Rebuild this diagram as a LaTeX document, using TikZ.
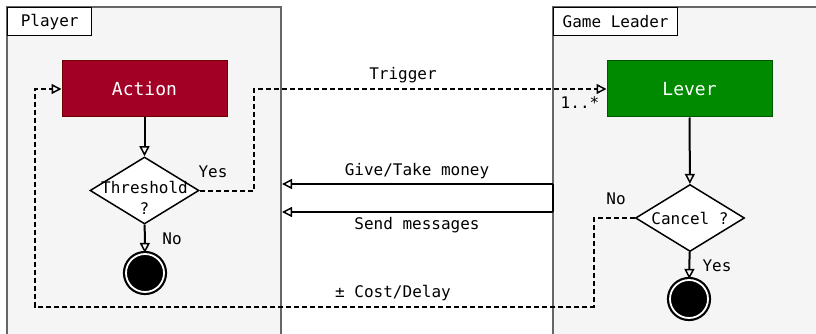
\documentclass[tikz,border=0pt]{standalone}
\usepackage{fontspec}
\setmainfont{DejaVu Sans Mono}
\usetikzlibrary{arrows.meta,shapes.geometric}
\definecolor{panelfill}{HTML}{F5F5F5}
\definecolor{panelline}{HTML}{666666}
\definecolor{actred}{HTML}{A20025}
\definecolor{actredline}{HTML}{6F0000}
\definecolor{levgreen}{HTML}{008A00}
\definecolor{levgreenline}{HTML}{005700}
\begin{document}
\begin{tikzpicture}[x=1pt,y=-1pt,
  txt/.style={font=\fontsize{16}{21}\selectfont, inner sep=0pt},
  lanelabel/.style={draw=black, fill=white, line width=1.3pt, anchor=north west, minimum height=28pt, inner sep=0pt, font=\fontsize{16}{21}\selectfont},
  actbox/.style={draw, line width=1pt, minimum width=165pt, minimum height=56pt, inner sep=0pt, text=white, font=\fontsize{18}{22}\selectfont},
  decision/.style={diamond, draw=black, fill=white, line width=1.5pt, minimum width=109pt, minimum height=67pt, inner sep=0pt},
  endstate/.style={circle, draw=black, fill=black, line width=2.2pt, double=white, double distance=1.8pt, minimum size=38pt, inner sep=0pt},
  flow/.style={line width=2pt, -{Triangle[open, length=10pt, width=10pt, line width=1.5pt]}},
  dflow/.style={line width=2pt, dash pattern=on 5pt off 3pt, -{Triangle[open, length=10pt, width=10pt, line width=1.5pt]}},
  dline/.style={line width=2pt, dash pattern=on 5pt off 3pt}
]
\useasboundingbox (0,0) rectangle (816,334);
% panels
\fill[panelfill] (7,7) rectangle (281,334);
\draw[panelline, line width=1.2pt] (7,334) -- (7,7) -- (281,7) -- (281,334);
\fill[panelfill] (553,7) rectangle (816,334);
\draw[panelline, line width=1.2pt] (553,334) -- (553,7) -- (816,7);
\node[lanelabel, minimum width=84pt] (lplayer) at (7,7) {Player};
\node[lanelabel, minimum width=124pt] (lleader) at (553,7) {Game Leader};
% player nodes
\node[actbox, fill=actred, draw=actredline] (action) at (144.5,89) {Action};
\node[decision] (thr) at (144.5,190.5) {};
\node[txt, align=center] (thrtext) at (144.5,198) {Threshold\\?};
\node[endstate] (end1) at (145,273) {};
% leader nodes
\node[actbox, fill=levgreen, draw=levgreenline] (lever) at (689.5,89) {Lever};
\node[decision] (cancel) at (690,218) {};
\node[txt] (canceltext) at (690,218) {Cancel ?};
\node[endstate] (end2) at (689,299) {};
% coordinates
\coordinate (yb) at (254,190.5);
\coordinate (n1) at (594,218);
\coordinate (n2) at (594,306.5);
\coordinate (n3) at (35,306.5);
\coordinate (g1) at (553,184);
\coordinate (g2) at (553,212);
\coordinate (gt) at (282,184);
\coordinate (sm) at (282,212);
% connectors
\draw[flow] (action) -- (thr);
\draw[flow] (thr) -- (end1);
\draw[flow] (lever) -- (cancel);
\draw[flow] (cancel) -- (end2);
\draw[dflow] (thr.east) -- (yb) |- (lever.west);
\draw[dflow] (cancel.west) -- (n1) -- (n2) -- (n3) |- (action.west);
\draw[flow] (g1) -- (gt);
\draw[flow] (g2) -- (sm);
\draw[line width=2pt] (g1) -- (g2);
% labels
\node[txt] (yes1) at (213,172) {Yes};
\node[txt] (no1) at (172,239) {No};
\node[txt] (no2) at (616,199) {No};
\node[txt] (yes2) at (717,266) {Yes};
\node[txt] (trig) at (403,75) {Trigger};
\node[txt] (mult) at (580,103) {1..*};
\node[txt] (give) at (417,171) {Give/Take money};
\node[txt] (send) at (417,225) {Send messages};
\node[txt] (cost) at (393,293) {± Cost/Delay};
\end{tikzpicture}
\end{document}
